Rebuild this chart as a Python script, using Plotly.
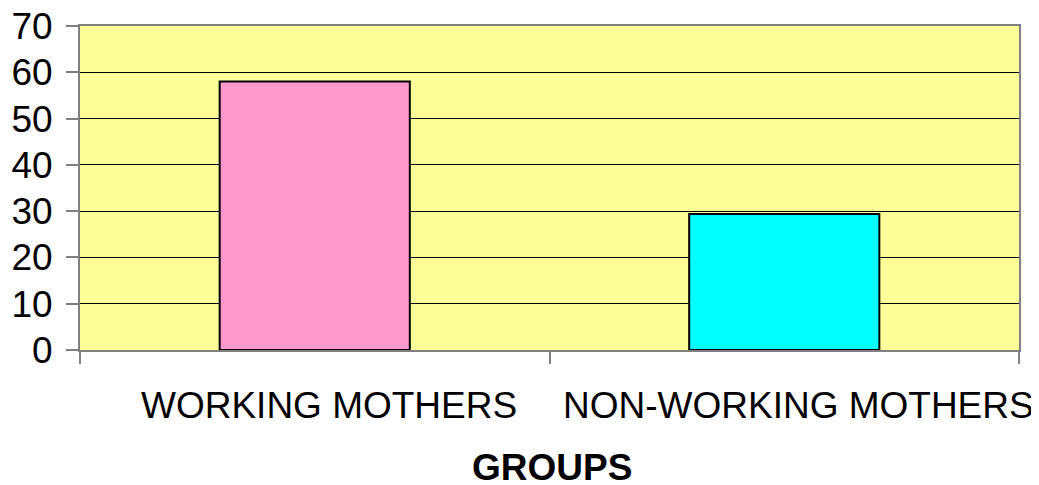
import plotly.graph_objects as go

categories = ["WORKING MOTHERS", "NON-WORKING MOTHERS"]
values = [58, 29.4]
bar_colors = ["#FF99CC", "#00FFFF"]
y_ticks = [0, 10, 20, 30, 40, 50, 60, 70]
x_title = "GROUPS"

fig = go.Figure()
fig.add_trace(go.Bar(
    x=categories, y=values,
    marker=dict(color=bar_colors, line=dict(color="#000000", width=2)),
    width=0.405,
))

font_family = "Liberation Sans, Arial, sans-serif"
fig.update_layout(
    width=1039, height=485,
    margin=dict(l=72, r=28, t=18, b=143),
    paper_bgcolor="white",
    plot_bgcolor="#FFFF99",
    showlegend=False,
    font=dict(family=font_family, color="#000000"),
    bargap=0.595,
)
# category labels under the axis (slightly right of the category centre, as in the original)
for cat in categories:
    fig.add_annotation(
        x=cat, xref="x", y=0, yref="paper",
        text=cat, showarrow=False,
        xanchor="center", yanchor="middle",
        xshift=14, yshift=-55,
        font=dict(size=37, family=font_family, color="#000000"),
    )

fig.update_xaxes(
    type="category",
    range=[-0.5, 1.5],
    automargin=False,
    showticklabels=False,
    ticks="outside", ticklen=12, tickcolor="#808080", tickwidth=2,
    tickson="boundaries",
    showline=True, linecolor="#808080", linewidth=2, mirror=True,
    showgrid=False,
)
fig.add_annotation(
    x=0.5, xref="paper", y=0, yref="paper",
    text="<b>" + x_title + "</b>", showarrow=False,
    xanchor="center", yanchor="middle", yshift=-117, xshift=2,
    font=dict(size=37, family=font_family, color="#000000"),
)
fig.update_yaxes(
    range=[0, 70],
    automargin=False,
    tickvals=y_ticks,
    tickfont=dict(size=37),
    ticklabeloverflow="allow",
    ticks="outside", ticklen=12, tickcolor="#808080", tickwidth=2,
    showline=True, linecolor="#808080", linewidth=2, mirror=True,
    showgrid=True, gridcolor="#000000", gridwidth=1,
    zeroline=False,
    ticklabelstandoff=6,
)

fig.write_html("out.html")
